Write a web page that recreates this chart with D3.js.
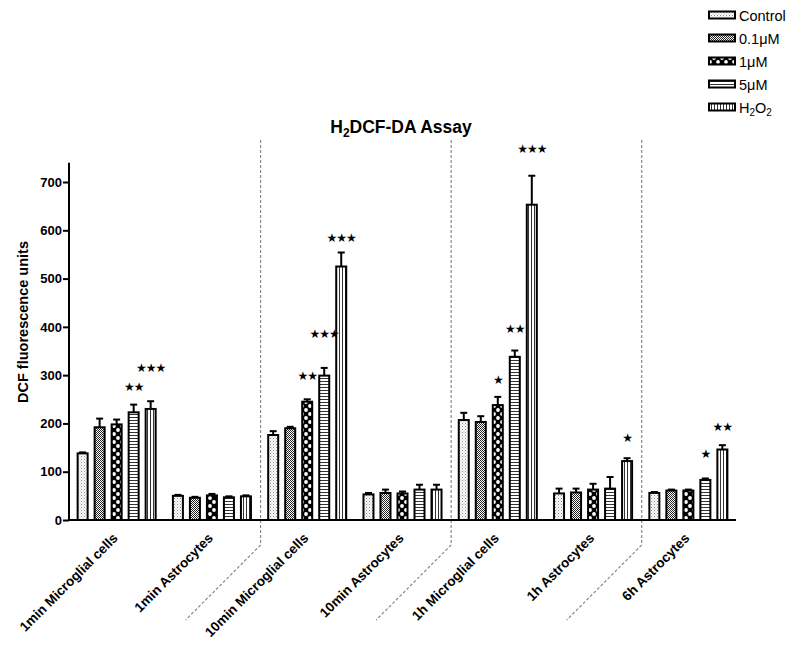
<!DOCTYPE html>
<html>
<head>
<meta charset="utf-8">
<script src="https://cdn.jsdelivr.net/npm/d3@7/dist/d3.min.js"></script>
<style>
  html, body { margin: 0; padding: 0; background: #fff; }
  svg { display: block; }
  text { font-family: "Liberation Sans", Arial, sans-serif; }
</style>
</head>
<body>
<script>
// Cell groups along the x axis
const groups = ["1min Microglial cells", "1min Astrocytes", "10min Microglial cells",
  "10min Astrocytes", "1h Microglial cells", "1h Astrocytes", "6h Astrocytes"];
// Treatments (one bar per group each)
const series = ["Control", "0.1μM", "1μM", "5μM", "H2O2"];

// Mean DCF fluorescence per treatment, one value per group
const controlVals = [138, 50, 176, 53, 207, 55, 56];
const lowVals     = [192, 46, 190, 56, 203, 57, 61];
const midVals     = [198, 51, 245, 55, 238, 63, 61];
const highVals    = [223, 47, 299, 63, 338, 65, 83];
const h2o2Vals    = [230, 49, 525, 63, 653, 122, 146];

// Error (SEM) per treatment
const controlErr = [2, 2, 8, 3, 15, 10, 2];
const lowErr     = [18, 2, 3, 7, 12, 8, 2];
const midErr     = [10, 3, 5, 4, 17, 12, 2];
const highErr    = [16, 2, 16, 10, 13, 24, 3];
const h2o2Err    = [16, 2, 29, 10, 60, 6, 9];

// Significance marks: [group index, series index, stars, level on the value axis]
const sigMarks = [
  [0, 3, "★★", 277], [0, 4, "★★★", 315],
  [2, 2, "★★", 300], [2, 3, "★★★", 387], [2, 4, "★★★", 586],
  [4, 2, "★", 292], [4, 3, "★★", 396], [4, 4, "★★★", 770],
  [5, 4, "★", 170],
  [6, 3, "★", 137], [6, 4, "★★", 193]
];

const yTicks = [0, 100, 200, 300, 400, 500, 600, 700];

const valueSets = [controlVals, lowVals, midVals, highVals, h2o2Vals];
const errSets = [controlErr, lowErr, midErr, highErr, h2o2Err];

const W = 790, H = 648;
const svg = d3.select("body").append("svg").attr("width", W).attr("height", H);

// ---- fill patterns ----
const defs = svg.append("defs");
function pat(id, w, h) {
  return defs.append("pattern").attr("id", id).attr("patternUnits", "userSpaceOnUse")
    .attr("width", w).attr("height", h);
}
// Control: light stipple
let p = pat("p0", 3, 3);
p.append("rect").attr("width", 3).attr("height", 3).attr("fill", "#fff");
p.append("rect").attr("x", 0).attr("y", 0).attr("width", 1).attr("height", 1).attr("fill", "#888");
p.append("rect").attr("x", 1.5).attr("y", 1.5).attr("width", 1).attr("height", 1).attr("fill", "#aaa");
// 0.1 µM: dense dark checker
p = pat("p1", 2, 2);
p.append("rect").attr("width", 2).attr("height", 2).attr("fill", "#fff");
p.append("rect").attr("x", 0).attr("y", 0).attr("width", 1).attr("height", 1).attr("fill", "#222");
p.append("rect").attr("x", 1).attr("y", 1).attr("width", 1).attr("height", 1).attr("fill", "#222");
// 1 µM: black with white dots
p = pat("p2", 8, 8);
p.append("rect").attr("width", 8).attr("height", 8).attr("fill", "#000");
p.append("circle").attr("cx", 2).attr("cy", 2).attr("r", 1.9).attr("fill", "#fff");
p.append("circle").attr("cx", 6).attr("cy", 6).attr("r", 1.9).attr("fill", "#fff");
// 5 µM: horizontal lines
p = pat("p3", 3, 3);
p.append("rect").attr("width", 3).attr("height", 3).attr("fill", "#fff");
p.append("rect").attr("x", 0).attr("y", 0).attr("width", 3).attr("height", 1).attr("fill", "#333");
// H2O2: vertical lines
p = pat("p4", 3, 3);
p.append("rect").attr("width", 3).attr("height", 3).attr("fill", "#fff");
p.append("rect").attr("x", 0).attr("y", 0).attr("width", 1).attr("height", 3).attr("fill", "#333");

// ---- scales ----
const x0 = d3.scaleBand().domain(groups).range([69, 736]).paddingInner(0.16).paddingOuter(0.08);
const x1 = d3.scaleBand().domain(series).range([0, x0.bandwidth()]).paddingInner(0.294);
const y = d3.scaleLinear().domain([0, 740]).range([520, 162.7]);

// ---- dashed separators between time points ----
const sepAfter = [1, 3, 5];
sepAfter.forEach(i => {
  const xa = x0(groups[i]) + x0.bandwidth();
  const xb = x0(groups[i + 1]);
  const xs = (xa + xb) / 2 + 1;
  svg.append("path")
    .attr("d", `M${xs},140 L${xs},545 L${xs - 75},620`)
    .attr("fill", "none").attr("stroke", "#8a8a8a").attr("stroke-width", 1.2)
    .attr("stroke-dasharray", "3,2");
});

// ---- bars ----
const bars = [];
groups.forEach((g, gi) => series.forEach((s, si) => {
  bars.push({ g, s, si, v: valueSets[si][gi], e: errSets[si][gi] });
}));

const barG = svg.append("g");
// error bars (drawn first so the bar outline sits on top)
barG.selectAll("g.err").data(bars).join("g").attr("class", "err").each(function (d) {
  const cx = x0(d.g) + x1(d.s) + x1.bandwidth() / 2;
  const sel = d3.select(this);
  sel.append("line").attr("x1", cx).attr("x2", cx).attr("y1", y(d.v)).attr("y2", y(d.v + d.e))
    .attr("stroke", "#000").attr("stroke-width", 2);
  sel.append("line").attr("x1", cx - 3.5).attr("x2", cx + 3.5).attr("y1", y(d.v + d.e)).attr("y2", y(d.v + d.e))
    .attr("stroke", "#000").attr("stroke-width", 2);
});
barG.selectAll("rect.bar").data(bars).join("rect").attr("class", "bar")
  .attr("x", d => x0(d.g) + x1(d.s) + 1)
  .attr("width", x1.bandwidth() - 2)
  .attr("y", d => y(d.v))
  .attr("height", d => y(0) - y(d.v))
  .attr("fill", d => `url(#p${d.si})`)
  .attr("stroke", "#000").attr("stroke-width", 2);

// ---- significance stars ----
svg.append("g").selectAll("text").data(sigMarks).join("text")
  .attr("x", d => x0(groups[d[0]]) + x1(series[d[1]]) + x1.bandwidth() / 2)
  .attr("y", d => y(d[3]))
  .attr("dy", "0.38em")
  .attr("text-anchor", "middle")
  .style("font-family", "'DejaVu Sans', sans-serif")
  .style("font-size", "12px")
  .style("letter-spacing", "-1px")
  .attr("fill", "#000")
  .text(d => d[2]);

// ---- axes ----
const yAxis = d3.axisLeft(y).tickValues(yTicks).tickSize(6).tickSizeOuter(0).tickPadding(1);
const ya = svg.append("g").attr("transform", "translate(69,0)").call(yAxis);
ya.select(".domain").attr("stroke-width", 2).attr("d", `M0,${y(740)}V${y(0)}`);
ya.selectAll(".tick line").attr("stroke-width", 2);
ya.selectAll(".tick text").style("font-size", "13px").style("font-weight", "bold")
  .style("font-family", "'Liberation Sans', Arial, sans-serif").attr("fill", "#000");

svg.append("line").attr("x1", 68).attr("x2", 736).attr("y1", y(0)).attr("y2", y(0))
  .attr("stroke", "#000").attr("stroke-width", 2);

// category labels, rotated
svg.append("g").selectAll("text").data(groups).join("text")
  .attr("transform", g => `translate(${x0(g) + x0.bandwidth() / 2 + 2},${539}) rotate(-45)`)
  .attr("text-anchor", "end")
  .style("font-size", "13.5px").style("font-weight", "bold")
  .attr("fill", "#000")
  .text(g => g);

// y axis title
svg.append("text")
  .attr("transform", `translate(28,322) rotate(-90)`)
  .attr("text-anchor", "middle")
  .style("font-size", "14.5px").style("font-weight", "bold")
  .text("DCF fluorescence units");

// chart title with subscript
const title = svg.append("text").attr("x", 401).attr("y", 133).attr("text-anchor", "middle")
  .style("font-size", "17.5px").style("font-weight", "bold");
title.append("tspan").text("H");
title.append("tspan").attr("dy", 4).style("font-size", "12px").text("2");
title.append("tspan").attr("dy", -4).text("DCF-DA Assay");

// ---- legend ----
const lg = svg.append("g");
series.forEach((s, i) => {
  const cy = 15 + i * 23;
  lg.append("rect").attr("x", 709).attr("y", cy - 3.5).attr("width", 26).attr("height", 7)
    .attr("fill", `url(#p${i})`).attr("stroke", "#000").attr("stroke-width", 2);
  const t = lg.append("text").attr("x", 739).attr("y", cy + 5.5).style("font-size", "14.5px").attr("fill", "#000");
  if (s === "H2O2") {
    t.append("tspan").text("H");
    t.append("tspan").attr("dy", 3).style("font-size", "10px").text("2");
    t.append("tspan").attr("dy", -3).text("O");
    t.append("tspan").attr("dy", 3).style("font-size", "10px").text("2");
  } else {
    t.text(s);
  }
});
</script>
</body>
</html>
